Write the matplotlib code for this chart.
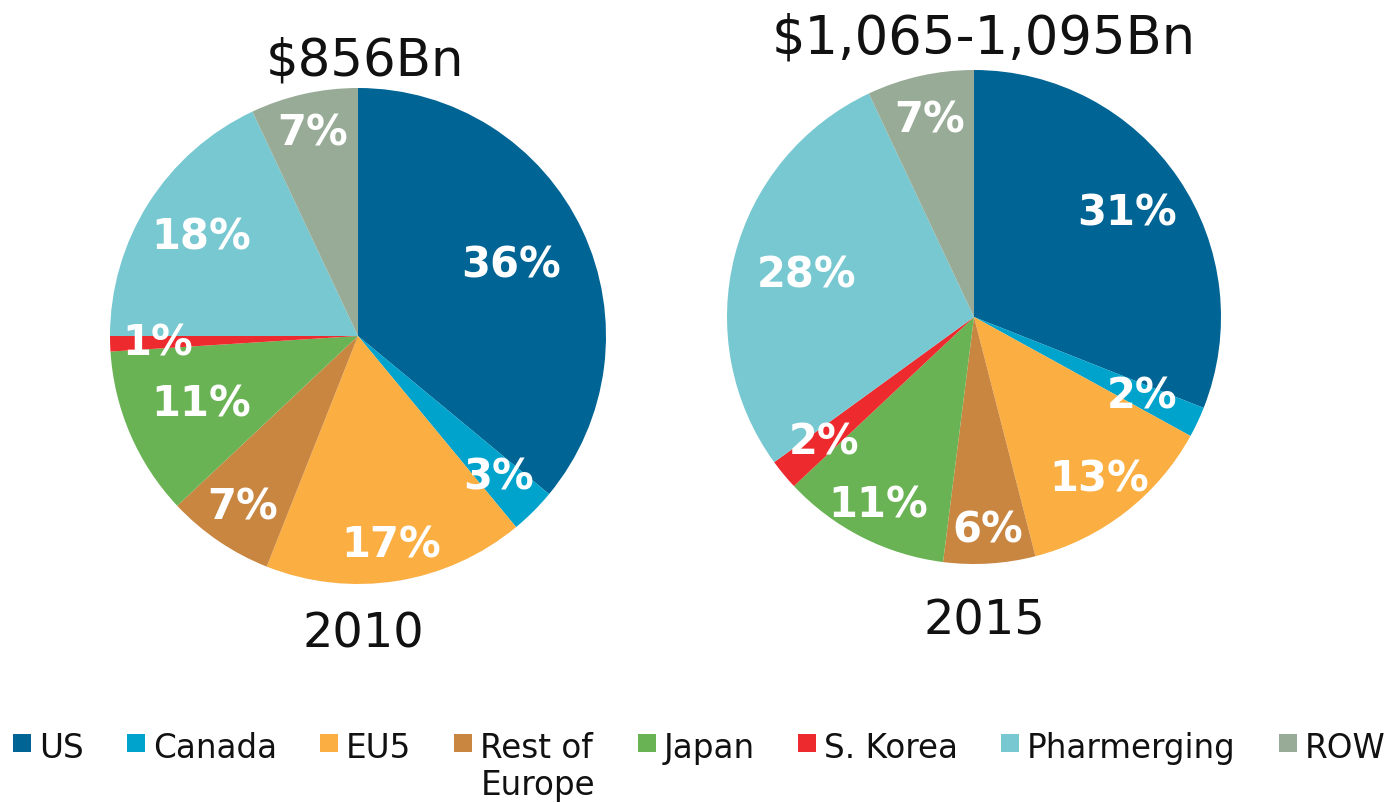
import numpy as np
import matplotlib
matplotlib.use('Agg')
import matplotlib.pyplot as plt
from matplotlib.patches import Rectangle

# market share by region, 2010 vs 2015
regions = ['US', 'Canada', 'EU5', 'Rest of\nEurope', 'Japan', 'S. Korea', 'Pharmerging', 'ROW']
share_2010 = [36, 3, 17, 7, 11, 1, 18, 7]
share_2015 = [31, 2, 13, 6, 11, 2, 28, 7]
totals = ['\\$856Bn', '\\$1,065-1,095Bn']
years = ['2010', '2015']

colors = ['#006494', '#00a3cc', '#fbae42', '#c98641', '#6ab354', '#ed2b2f', '#78c8d1', '#98ab97']

W, H = 1395, 804
plt.rcParams['font.family'] = ['DejaVu Sans']
fig = plt.figure(figsize=(W / 100, H / 100), dpi=100)

# pie layout in pixels: centre x, centre y, radius
pies = [
    dict(cx=358, cy=337, r=248, values=share_2010, title_size=37,
         lab_r=[0.68, 0.80, 0.85, 0.83, 0.69, 0.81, 0.75, 0.84],
         title_xy=(0.028, 1.056), year_xy=(0.02, -1.25)),
    dict(cx=974, cy=318, r=247, values=share_2015, title_size=38,
         lab_r=[0.75, 0.75, 0.83, 0.86, 0.85, 0.79, 0.70, 0.82],
         title_xy=(0.04, 1.069), year_xy=(0.04, -1.283)),
]

for p, total, year in zip(pies, totals, years):
    ax = fig.add_axes([(p['cx'] - p['r']) / W, (H - p['cy'] - p['r']) / H,
                       2 * p['r'] / W, 2 * p['r'] / H])
    wedges, _ = ax.pie(p['values'], colors=colors, startangle=90, counterclock=False,
                       radius=1, wedgeprops=dict(linewidth=0))
    ax.set_xlim(-1, 1)
    ax.set_ylim(-1, 1)
    ax.axis('off')
    for w, v, d in zip(wedges, p['values'], p['lab_r']):
        ang = np.deg2rad((w.theta1 + w.theta2) / 2)
        ax.text(d * np.cos(ang), d * np.sin(ang), f'{v}%', ha='center', va='center',
                color='white', fontsize=30, fontweight='bold')
    ax.text(p['title_xy'][0], p['title_xy'][1], total, ha='center', va='baseline',
            fontsize=p['title_size'], color='#111111')
    ax.text(p['year_xy'][0], p['year_xy'][1], year, ha='center', va='baseline',
            fontsize=34.5, color='#111111')

# legend drawn by hand so the two-line label keeps its marker on the first line
renderer = fig.canvas.get_renderer()
x = 13
for name, c in zip(regions, colors):
    fig.patches.append(Rectangle((x / W, 1 - 753 / H), 18 / W, 18 / H,
                                 transform=fig.transFigure, color=c, linewidth=0))
    width = 0
    for i, line in enumerate(name.split('\n')):
        t = fig.text((x + 26) / W, 1 - (758 + 37 * i) / H, line, fontsize=23.5,
                     va='baseline', ha='left', color='#111111')
        width = max(width, t.get_window_extent(renderer).width)
    x += 26 + width + 43

fig.savefig('out.png', dpi=100)
